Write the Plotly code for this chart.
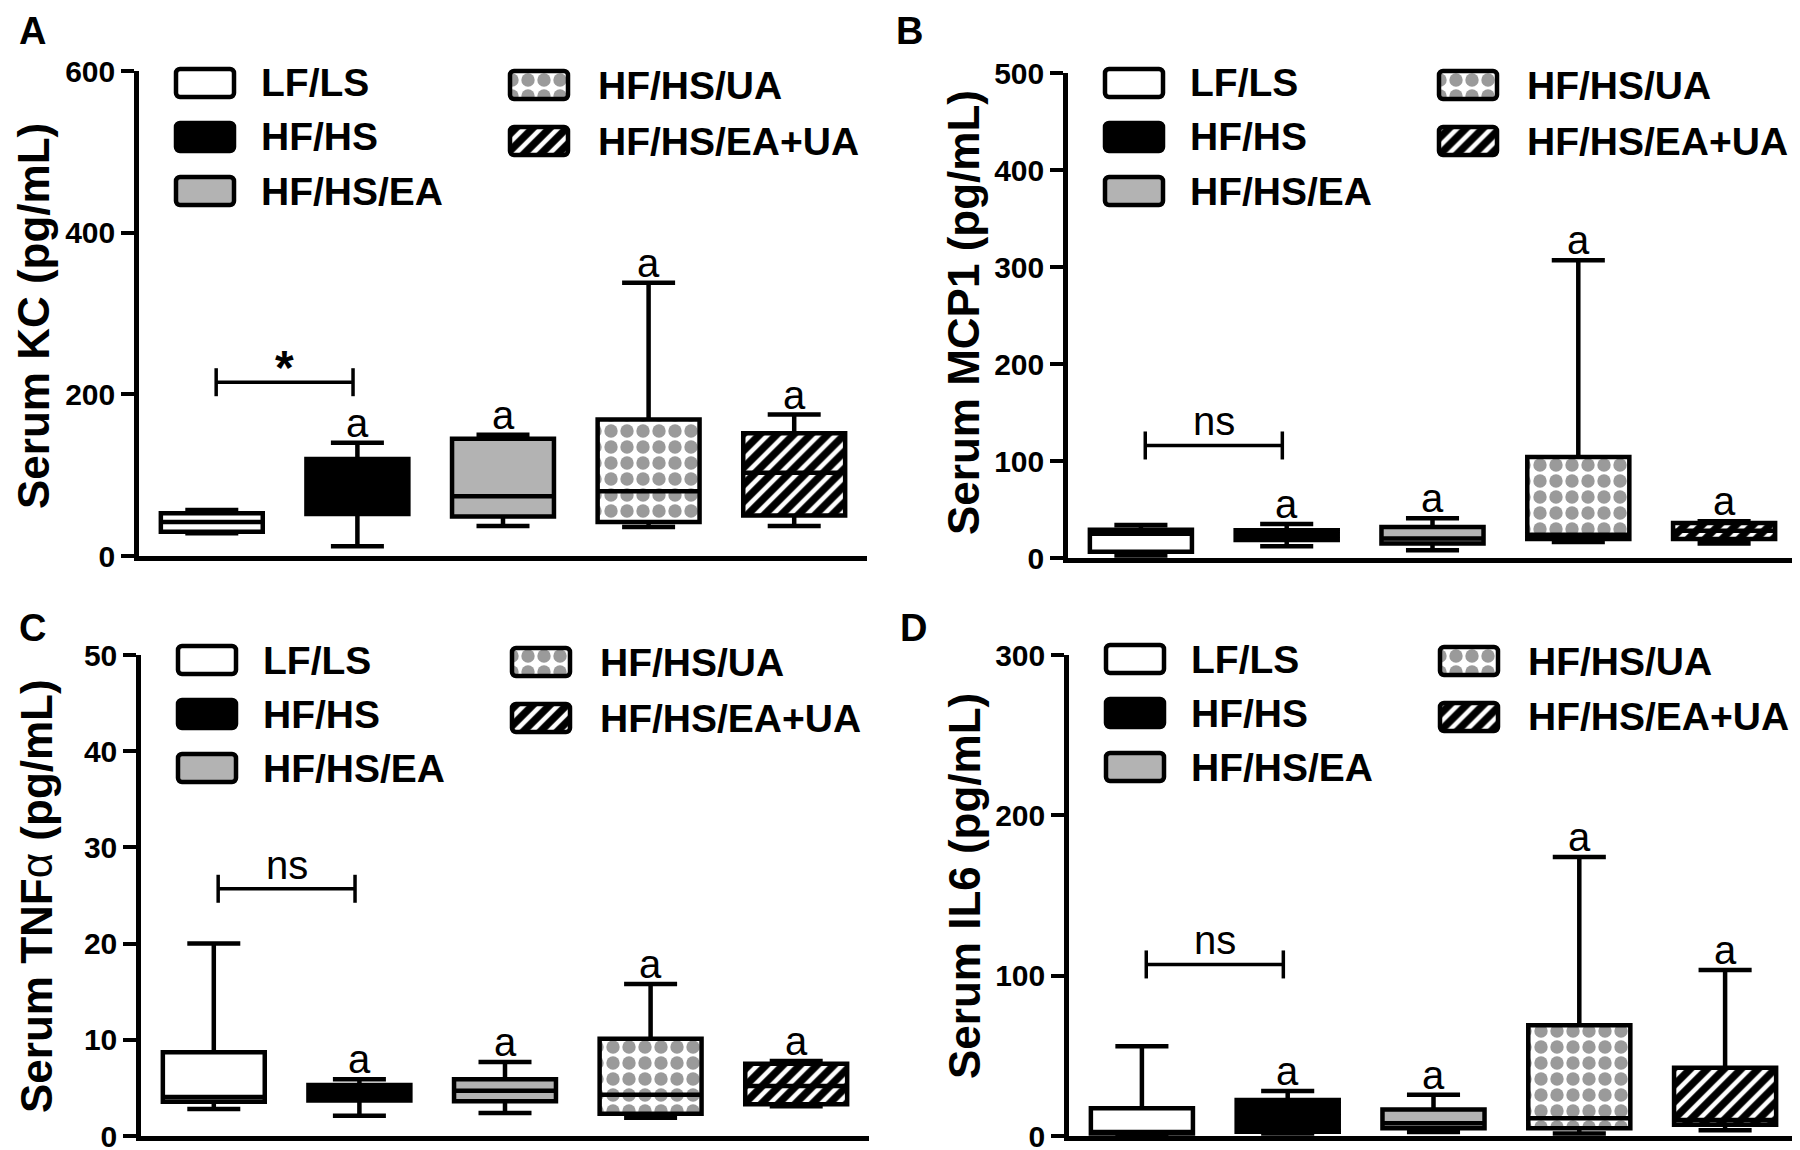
import plotly.graph_objects as go

GROUPS = ["LF/LS", "HF/HS", "HF/HS/EA", "HF/HS/UA", "HF/HS/EA+UA"]
FILLS = ["white", "black", "#b3b3b3", "white", "white"]

# Serum KC (pg/mL)
KC_LOW = [28, 12, 37, 36, 37]
KC_Q1 = [30, 52, 49, 42, 50]
KC_MED = [42, 85, 74, 80, 103]
KC_Q3 = [53, 120, 145, 169, 152]
KC_HIGH = [57, 140, 150, 338, 175]

# Serum MCP1 (pg/mL)
MCP_LOW = [2.5, 12, 8, 16.5, 15]
MCP_Q1 = [6.5, 18.6, 15, 19.6, 19.6]
MCP_MED = [25, 24, 20, 24, 28]
MCP_Q3 = [29, 28.5, 32, 104, 36]
MCP_HIGH = [34, 35, 41, 307, 38]

# Serum TNFa (pg/mL)
TNF_LOW = [2.8, 2.1, 2.4, 1.9, 3.1]
TNF_Q1 = [3.55, 3.7, 3.6, 2.3, 3.3]
TNF_MED = [4.05, 4.5, 4.7, 4.3, 5.2]
TNF_Q3 = [8.7, 5.3, 5.9, 10.1, 7.5]
TNF_HIGH = [20, 5.9, 7.7, 15.8, 7.8]

# Serum IL6 (pg/mL)
IL6_LOW = [1, 1.5, 2.5, 1.5, 3.6]
IL6_Q1 = [1.5, 2.7, 4.9, 4.9, 7]
IL6_MED = [2.5, 12, 8, 11, 10]
IL6_Q3 = [17.3, 22.4, 16.5, 69, 42.5]
IL6_HIGH = [56, 28, 25.8, 174, 103.6]

# "a" = significant vs LF/LS ; bracket between LF/LS and HF/HS
A_MARK = ["", "a", "a", "a", "a"]
BRACKET_TEXT = ["*", "ns", "ns", "ns"]
BRACKET_Y = [215, 116, 25.7, 107]

W, H = 1800, 1150
OFF = 8  # page body margin, positions below are in window pixels
NARROW = "Liberation Sans Narrow, Arial Narrow, Liberation Sans, Arial"
SANS = "Liberation Sans, Arial, Helvetica"
LW = 4.5


def px(x):
    return (x - OFF) / W


def py(y):
    return 1 - (y - OFF) / H


panels = [
    dict(letter="A", title="<b>Serum KC (pg/mL)</b>", low=KC_LOW, q1=KC_Q1, med=KC_MED, q3=KC_Q3,
         high=KC_HIGH, ymax=600, dtick=200, xd=(139, 867), yd=(71, 556), leg_dy=0, lpos=(32, 31), ty=316),
    dict(letter="B", title="<b>Serum MCP1 (pg/mL)</b>", low=MCP_LOW, q1=MCP_Q1, med=MCP_MED, q3=MCP_Q3,
         high=MCP_HIGH, ymax=500, dtick=100, xd=(1068, 1797), yd=(73, 558), leg_dy=-2, lpos=(910, 31), ty=313),
    dict(letter="C", title="<b>Serum TNF</b>α<b> (pg/mL)</b>", low=TNF_LOW, q1=TNF_Q1, med=TNF_MED, q3=TNF_Q3,
         high=TNF_HIGH, ymax=50, dtick=10, xd=(141, 869), yd=(655, 1136), leg_dy=-7, lpos=(32, 628), ty=896),
    dict(letter="D", title="<b>Serum IL6 (pg/mL)</b>", low=IL6_LOW, q1=IL6_Q1, med=IL6_MED, q3=IL6_Q3,
         high=IL6_HIGH, ymax=300, dtick=100, xd=(1069, 1798), yd=(655, 1136), leg_dy=-8, lpos=(914, 628), ty=886),
]

PATTERNS = {
    3: dict(shape=".", fgcolor="#9a9a9a", bgcolor="white", size=16, solidity=0.55, fillmode="replace"),
    4: dict(shape="/", fgcolor="black", bgcolor="white", size=12, solidity=0.62, fillmode="replace"),
}

fig = go.Figure()
layout = dict(width=W, height=H, margin=dict(l=0, r=0, t=0, b=0, pad=0, autoexpand=False), showlegend=False,
              paper_bgcolor="white", plot_bgcolor="rgba(0,0,0,0)", annotations=[], shapes=[])

for p_i, p in enumerate(panels):
    n = "" if p_i == 0 else str(p_i + 1)
    xa, ya = "x" + n, "y" + n
    layout["xaxis" + n] = dict(domain=[px(p["xd"][0]), px(p["xd"][1])], range=[-0.5, 4.5], anchor=ya,
                               showline=True, linecolor="black", linewidth=LW, showticklabels=False,
                               ticks="", showgrid=False, zeroline=False, fixedrange=True, automargin=False)
    layout["yaxis" + n] = dict(domain=[py(p["yd"][1]), py(p["yd"][0])], range=[0, p["ymax"]],
                               anchor=xa, dtick=p["dtick"], showline=True, linecolor="black", linewidth=LW,
                               ticks="outside", ticklen=13, tickwidth=3.5, tickcolor="black",
                               tickfont=dict(family=SANS, size=30, color="black", weight="bold"),
                               showgrid=False, zeroline=False, fixedrange=True, automargin=False)

    # patterned fills underneath the boxes
    for g, pat in PATTERNS.items():
        fig.add_trace(go.Bar(x=[g], base=[p["q1"][g]], y=[p["q3"][g] - p["q1"][g]], width=0.7,
                             marker=dict(color="white", pattern=pat, line=dict(width=0)),
                             xaxis=xa, yaxis=ya, hoverinfo="skip"))

    for g in range(5):
        fill = "rgba(0,0,0,0)" if g in PATTERNS else FILLS[g]
        fig.add_trace(go.Box(x=[g], q1=[p["q1"][g]], median=[p["med"][g]], q3=[p["q3"][g]],
                             lowerfence=[p["low"][g]], upperfence=[p["high"][g]], width=0.7,
                             whiskerwidth=0.52, fillcolor=fill, line=dict(color="black", width=LW),
                             boxpoints=False, name=GROUPS[g], xaxis=xa, yaxis=ya))
        if A_MARK[g]:
            layout["annotations"].append(dict(x=g, y=p["high"][g], xref=xa, yref=ya, text=A_MARK[g],
                                              showarrow=False, xanchor="center", yanchor="bottom", yshift=-4,
                                              font=dict(family=NARROW, size=40, color="black")))

    # significance bracket LF/LS vs HF/HS
    by = BRACKET_Y[p_i]
    layout["shapes"].append(dict(type="line", xref=xa, yref=ya, x0=0.03, x1=0.97, y0=by, y1=by,
                                 line=dict(color="black", width=3.5)))
    for bx in (0.03, 0.97):
        layout["shapes"].append(dict(type="line", xref=xa, yref=ya, x0=bx, x1=bx, ysizemode="pixel",
                                     yanchor=by, y0=-14, y1=14, line=dict(color="black", width=3.5)))
    star = BRACKET_TEXT[p_i] == "*"
    layout["annotations"].append(dict(x=0.5, y=by, xref=xa, yref=ya, text=BRACKET_TEXT[p_i], showarrow=False,
                                      xanchor="center", yanchor="bottom", yshift=-14 if star else 0,
                                      font=dict(family=SANS if star else NARROW, size=48 if star else 40,
                                                color="black", weight="bold" if star else "normal")))

    # axis title and panel letter
    layout["annotations"].append(dict(x=px(p["xd"][0] - 105), y=py(p["ty"]),
                                      xref="paper", yref="paper", text=p["title"], textangle=-90,
                                      xanchor="center", yanchor="middle", showarrow=False,
                                      font=dict(family=SANS, size=44, color="black")))
    layout["annotations"].append(dict(x=px(p["lpos"][0]), y=py(p["lpos"][1]),
                                      xref="paper", yref="paper", text="<b>" + p["letter"] + "</b>",
                                      xanchor="center", yanchor="middle", showarrow=False,
                                      font=dict(family=SANS, size=38, color="black")))

# legend swatches, drawn in window pixels on a full-figure helper axis
leg_cols = [(66, 120), (66, 120), (66, 120), (400, 457), (400, 457)]
leg_rows = [12, 66, 120, 14, 70]
for g in range(5):
    xs, tops = [], []
    for p in panels:
        xs.append(p["xd"][0] + leg_cols[g][0])
        tops.append(p["yd"][0] + leg_rows[g] + p["leg_dy"] - 14)
        layout["annotations"].append(dict(x=px(p["xd"][0] + leg_cols[g][1]),
                                          y=py(p["yd"][0] + leg_rows[g] + p["leg_dy"]),
                                          xref="paper", yref="paper", text="<b>" + GROUPS[g] + "</b>",
                                          xanchor="left", yanchor="middle", showarrow=False,
                                          font=dict(family=SANS, size=39, color="black")))
    mk = dict(color=FILLS[g], line=dict(color="black", width=LW), cornerradius=4)
    if g in PATTERNS:
        mk["pattern"] = PATTERNS[g]
    fig.add_trace(go.Bar(x=xs, base=tops, y=[28] * 4, width=58, marker=mk,
                         xaxis="x5", yaxis="y5", hoverinfo="skip"))

layout["xaxis5"] = dict(domain=[0, 1], range=[OFF, W + OFF], anchor="y5", visible=False, fixedrange=True,
                        automargin=False)
layout["yaxis5"] = dict(domain=[0, 1], range=[H + OFF, OFF], anchor="x5", visible=False, fixedrange=True,
                        automargin=False)
layout["barmode"] = "overlay"

fig.update_layout(**layout)
fig.write_html("out.html")
